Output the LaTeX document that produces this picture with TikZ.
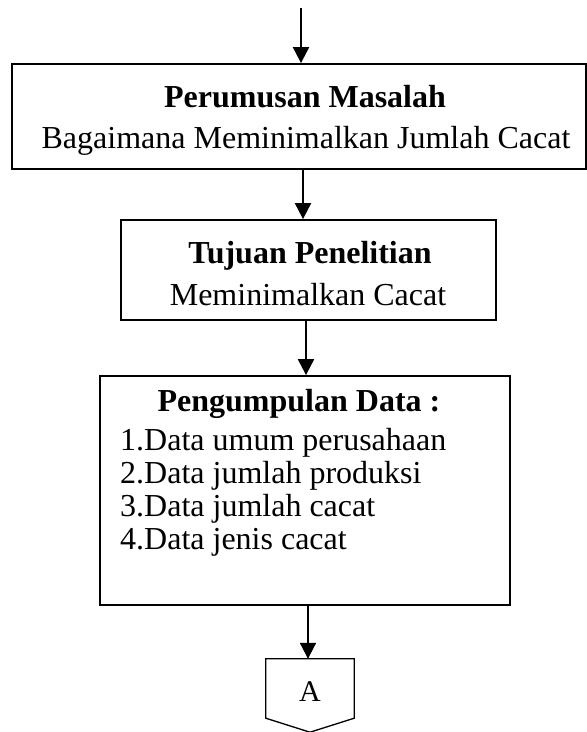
\documentclass[tikz,border=0pt]{standalone}
\usepackage{fontspec}
\setmainfont{Liberation Serif}
\usetikzlibrary{arrows.meta,calc}

\tikzset{
  frame/.style={draw, line width=1.8pt, inner sep=0pt, rectangle},
  headtxt/.style={anchor=base, inner sep=0pt, font=\fontsize{32}{38}\selectfont\bfseries},
  bodytxt/.style={anchor=base, inner sep=0pt, font=\fontsize{32}{38}\selectfont},
  itemtxt/.style={anchor=base west, inner sep=0pt, font=\fontsize{32}{38}\selectfont},
  flow/.style={line width=2pt, -{Triangle[length=16pt,width=16pt]}},
  offpage/.style={line width=1.3pt, line join=miter}
}

\begin{document}
\begin{tikzpicture}[x=1pt, y=-1pt]
  \useasboundingbox (0,0) rectangle (587,732);

  % problem statement
  \node[frame, minimum width=574pt, minimum height=105pt] (rumusan) at (299,116.5) {};
  \node[headtxt] (rumusanT) at (305,107) {Perumusan Masalah};
  \node[bodytxt] (rumusanB) at (306,148) {Bagaimana Meminimalkan Jumlah Cacat};

  % research goal
  \node[frame, minimum width=375pt, minimum height=100pt] (tujuan) at (308.5,270) {};
  \node[headtxt] (tujuanT) at (310,263) {Tujuan Penelitian};
  \node[bodytxt] (tujuanB) at (308,305) {Meminimalkan Cacat};

  % data collection
  \node[frame, minimum width=410pt, minimum height=229pt] (data) at (305,490.5) {};
  \node[headtxt] (dataT) at (299,411) {Pengumpulan Data :};
  \node[itemtxt] (d1) at (120,450) {1.Data umum perusahaan};
  \node[itemtxt] (d2) at (120,483) {2.Data jumlah produksi};
  \node[itemtxt] (d3) at (120,516) {3.Data jumlah cacat};
  \node[itemtxt] (d4) at (120,549) {4.Data jenis cacat};

  % off-page connector
  \node[inner sep=0pt, minimum width=88pt, minimum height=59pt] (konektor) at (310,688.5) {};
  \draw[offpage] (konektor.south west) -- (konektor.north west) -- (konektor.north east)
    -- (konektor.south east) -- ($(konektor.south)+(0,14)$) -- cycle;
  \node[bodytxt, font=\fontsize{30}{34}\selectfont] (konektorA) at (310,701) {A};

  % arrow columns
  \coordinate (mulai) at (301,8);
  \coordinate (k2) at (303,0);
  \coordinate (k3) at (306,0);
  \coordinate (k4) at (308,0);

  \draw[flow] (mulai) -- (rumusan.north -| mulai);
  \draw[flow] (rumusan.south -| k2) -- (tujuan.north -| k2);
  \draw[flow] (tujuan.south -| k3) -- (data.north -| k3);
  \draw[flow] (data.south -| k4) -- (konektor.north -| k4);
\end{tikzpicture}
\end{document}
